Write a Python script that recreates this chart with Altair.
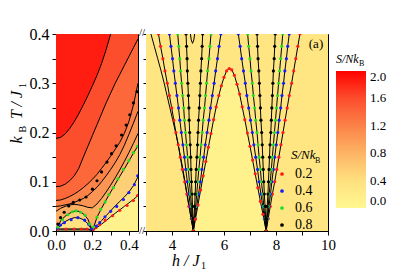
import altair as alt
import pandas as pd

FONT = "Liberation Serif"

# ---------------- colour scale of S/NkB ----------------
S_STOPS = [0.0, 0.4, 0.8, 1.2, 1.6, 2.0]
S_COLORS = ["#fff890", "#ffe07f", "#fdb464", "#fc8248", "#fc4d2c", "#ff0000"]
S_TICKS = [0.0, 0.4, 0.8, 1.2, 1.6, 2.0]

SERIES = ["0.2", "0.4", "0.6", "0.8"]
SERIES_COLORS = ["#ff1a1a", "#1a1aff", "#22dd22", "#000000"]

# ---------------- left panel: contour lines T(h) ----------------
LH = [0.0, 0.025, 0.05, 0.075, 0.1, 0.125, 0.15, 0.175, 0.2, 0.225,
      0.25, 0.275, 0.3, 0.325, 0.35, 0.375, 0.4, 0.425, 0.45]
LA = [0.188, 0.190, 0.197, 0.208, 0.222, 0.238, 0.256, 0.275, 0.295, 0.316,
      0.340, 0.368, 0.400, 0.435, 0.470, 0.505, 0.540, 0.575, 0.610]
LB = [0.090, 0.091, 0.095, 0.102, 0.112, 0.127, 0.150, 0.172, 0.194, 0.216,
      0.238, 0.260, 0.280, 0.300, 0.318, 0.336, 0.354, 0.372, 0.390]
LC = [0.062, 0.063, 0.066, 0.070, 0.075, 0.081, 0.088, 0.096, 0.105, 0.115,
      0.127, 0.139, 0.152, 0.166, 0.180, 0.198, 0.222, 0.256, 0.300]
LD = [0.050, 0.051, 0.053, 0.055, 0.058, 0.062, 0.066, 0.072, 0.080, 0.089,
      0.100, 0.112, 0.125, 0.139, 0.155, 0.174, 0.196, 0.219, 0.243]
LE = [0.040, 0.046, 0.050, 0.053, 0.054, 0.053, 0.051, 0.048, 0.047, 0.055,
      0.066, 0.079, 0.093, 0.108, 0.124, 0.141, 0.159, 0.178, 0.198]
LF = [0.0, 0.020, 0.030, 0.036, 0.040, 0.040, 0.035, 0.024, 0.0, 0.028,
      0.046, 0.063, 0.079, 0.095, 0.111, 0.126, 0.142, 0.158, 0.173]
LG = [0.0, 0.012, 0.019, 0.024, 0.027, 0.027, 0.023, 0.015, 0.0, 0.011,
      0.021, 0.031, 0.041, 0.051, 0.060, 0.069, 0.079, 0.092, 0.110]
LR = [0.004, 0.004, 0.004, 0.004, 0.004, 0.004, 0.004, 0.004, 0.0, 0.007,
      0.014, 0.021, 0.029, 0.036, 0.043, 0.050, 0.057, 0.064, 0.072]
LEFT_LINES = [("A", LA), ("B", LB), ("C", LC), ("D", LD), ("E", LE),
              ("F", LF), ("G", LG), ("R", LR)]
# S/NkB of the region just below each line (top region first)
TOP_H = [0.0, 0.45]
TOP_T = [0.4, 0.4]
TOP_S = 1.85
LEFT_BAND_S = [1.6, 1.4, 1.2, 1.05, 0.85, 0.55, 0.35, 0.1]
# dark strip of crowded contours along T -> 0 for 0 < h < 0.2
STRIP_H = [0.0, 0.2]
STRIP_T = [0.005, 0.005]

# left panel dotted contours
L_RED_H = [0.01, 0.055, 0.1, 0.14, 0.17, 0.205, 0.22, 0.24, 0.27, 0.31, 0.35, 0.39, 0.425, 0.448]
L_RED_T = [0.004, 0.004, 0.004, 0.004, 0.004, 0.003, 0.007, 0.013, 0.022, 0.031, 0.042, 0.052, 0.062, 0.072]
L_BLUE_H = [0.009, 0.025, 0.046, 0.083, 0.12, 0.157, 0.18, 0.197, 0.222, 0.24, 0.269, 0.30, 0.333, 0.37, 0.40, 0.43, 0.448]
L_BLUE_T = [0.006, 0.012, 0.017, 0.023, 0.027, 0.022, 0.013, 0.004, 0.010, 0.017, 0.029, 0.040, 0.050, 0.064, 0.078, 0.094, 0.112]
L_GREEN_H = [0.01, 0.035, 0.065, 0.09, 0.11, 0.135, 0.16, 0.185, 0.205, 0.225, 0.245, 0.27, 0.29, 0.315, 0.34, 0.37, 0.40, 0.425, 0.448]
L_GREEN_T = [0.008, 0.023, 0.033, 0.039, 0.041, 0.038, 0.032, 0.014, 0.008, 0.028, 0.044, 0.059, 0.074, 0.088, 0.106, 0.125, 0.143, 0.159, 0.172]
L_BLACK_H = [0.01, 0.025, 0.045, 0.07, 0.095, 0.13, 0.165, 0.2, 0.225, 0.25, 0.28, 0.305, 0.33, 0.36, 0.385, 0.405, 0.425, 0.445]
L_BLACK_T = [0.014, 0.027, 0.038, 0.051, 0.058, 0.063, 0.069, 0.085, 0.102, 0.12, 0.14, 0.157, 0.173, 0.195, 0.215, 0.236, 0.26, 0.283]

# ---------------- right panel: contour lines h(T) ----------------
RT = [0.0, 0.025, 0.05, 0.075, 0.1, 0.125, 0.15, 0.175, 0.2, 0.225,
      0.25, 0.275, 0.3, 0.325, 0.35, 0.375, 0.4]
R_OUT_L1 = [4.82, 4.74, 4.66, 4.58, 4.50, 4.42, 4.33, 4.24, 4.14, 4.03, 3.92, 3.81, 3.70, 3.58, 3.45, 3.32, 3.19]
R_RED_L1 = [4.82, 4.74, 4.65, 4.57, 4.49, 4.40, 4.32, 4.24, 4.15, 4.07, 3.99, 3.90, 3.82, 3.73, 3.65, 3.56, 3.48]
R_BLUE_L1 = [4.82, 4.76, 4.71, 4.65, 4.59, 4.53, 4.48, 4.42, 4.36, 4.30, 4.25, 4.19, 4.13, 4.07, 4.02, 3.96, 3.90]
R_GREEN_L1 = [4.82, 4.78, 4.75, 4.71, 4.67, 4.63, 4.60, 4.56, 4.52, 4.48, 4.45, 4.41, 4.37, 4.33, 4.30, 4.26, 4.22]
R_BLACK_L1 = [4.82, 4.80, 4.79, 4.77, 4.75, 4.73, 4.72, 4.70, 4.68, 4.66, 4.65, 4.63, 4.61, 4.59, 4.58, 4.56, 4.54]
R_BLACK_R1 = [4.82, 4.84, 4.87, 4.89, 4.91, 4.93, 4.96, 4.98, 5.00, 5.02, 5.05, 5.07, 5.09, 5.11, 5.14, 5.16, 5.18]
R_GREEN_R1 = [4.82, 4.86, 4.91, 4.95, 4.99, 5.03, 5.08, 5.12, 5.16, 5.20, 5.25, 5.29, 5.33, 5.37, 5.42, 5.46, 5.50]
R_BLUE_R1 = [4.82, 4.89, 4.95, 5.02, 5.09, 5.15, 5.22, 5.28, 5.35, 5.42, 5.48, 5.55, 5.62, 5.68, 5.75, 5.81, 5.88]
R_BLUE_L2 = [7.62, 7.55, 7.49, 7.42, 7.35, 7.29, 7.22, 7.15, 7.09, 7.02, 6.95, 6.88, 6.82, 6.75, 6.68, 6.62, 6.55]
R_GREEN_L2 = [7.62, 7.58, 7.53, 7.49, 7.44, 7.40, 7.35, 7.31, 7.27, 7.22, 7.18, 7.13, 7.09, 7.04, 7.00, 6.95, 6.91]
R_BLACK_L2 = [7.62, 7.60, 7.58, 7.55, 7.53, 7.51, 7.49, 7.47, 7.45, 7.42, 7.40, 7.38, 7.36, 7.34, 7.31, 7.29, 7.27]
R_BLACK_R2 = [7.62, 7.64, 7.66, 7.69, 7.71, 7.73, 7.75, 7.77, 7.80, 7.82, 7.84, 7.86, 7.88, 7.90, 7.93, 7.95, 7.97]
R_GREEN_R2 = [7.62, 7.66, 7.70, 7.74, 7.78, 7.82, 7.86, 7.90, 7.94, 7.98, 8.02, 8.06, 8.10, 8.14, 8.18, 8.22, 8.26]
R_BLUE_R2 = [7.62, 7.68, 7.73, 7.79, 7.84, 7.90, 7.95, 8.01, 8.07, 8.12, 8.18, 8.23, 8.29, 8.34, 8.40, 8.45, 8.51]
R_RED_R2 = [7.62, 7.70, 7.78, 7.86, 7.95, 8.03, 8.11, 8.19, 8.27, 8.35, 8.43, 8.51, 8.60, 8.68, 8.76, 8.84, 8.92]
# red dome between the two critical fields, T(h)
DOME_H = [4.82, 4.9, 5.0, 5.1, 5.2, 5.3, 5.4, 5.5, 5.6, 5.7, 5.8, 5.9, 6.0, 6.1, 6.2,
          6.3, 6.4, 6.5, 6.6, 6.7, 6.8, 6.9, 7.0, 7.1, 7.2, 7.3, 7.4, 7.5, 7.62]
DOME_T = [0.0, 0.024, 0.053, 0.083, 0.112, 0.141, 0.17, 0.198, 0.226, 0.252, 0.275, 0.295, 0.312, 0.325, 0.330,
          0.327, 0.316, 0.298, 0.278, 0.252, 0.226, 0.199, 0.172, 0.144, 0.116, 0.088, 0.060, 0.034, 0.0]
# small closed-top contour at the top of the first fan
NOTCH_H = [4.71, 4.74, 4.79, 4.84, 4.87]
NOTCH_T = [0.4, 0.388, 0.381, 0.388, 0.4]
R_BG_H = [3.0, 10.0]
R_BG_T = [0.4, 0.4]
R_BG_S = 0.3
R_OUTSIDE_S = 0.1
R_FAN_S = [0.5, 0.7, 1.0]

# ---------------- scales / axes ----------------
cscale = alt.Scale(domain=S_STOPS, range=S_COLORS, interpolate="rgb")
fscale = alt.Scale(domain=SERIES, range=SERIES_COLORS)

lx_scale = alt.Scale(domain=[0, 0.45], nice=False, zero=False)
ly_scale = alt.Scale(domain=[0, 0.4], nice=False)
rx_scale = alt.Scale(domain=[3, 10], nice=False, zero=False)
ry_scale = alt.Scale(domain=[0, 0.4], nice=False)

Y_TICKS = [0.0, 0.05, 0.1, 0.15, 0.2, 0.25, 0.3, 0.35, 0.4]
LX_TICKS = [0.0, 0.1, 0.2, 0.3, 0.4]
RX_TICKS = [3, 4, 5, 6, 7, 8, 9, 10]

lx_axis = alt.Axis(values=LX_TICKS, format=".1f", title=None, grid=False, labelFlush=False,
                   labelOverlap=False, labelFontSize=15, labelPadding=2,
                   labelExpr="round(datum.value*10) % 2 == 0 ? datum.label : ''")
ly_axis = alt.Axis(values=Y_TICKS, format=".1f", title=None, grid=False, labelFlush=False,
                   labelOverlap=False, labelFontSize=16, labelPadding=3,
                   labelExpr="round(datum.value*20) % 2 == 0 ? datum.label : ''")
rx_axis = alt.Axis(values=RX_TICKS, format="d", title=None, grid=False, labelFlush=False,
                   labelOverlap=False, labelFontSize=15, labelPadding=2,
                   labelExpr="datum.value % 2 == 0 ? datum.label : ''")
ry_axis = alt.Axis(values=Y_TICKS, labels=False, title=None, grid=False, tickSize=3)

color_legend = alt.Legend(orient="none", legendX=190, legendY=37, direction="vertical",
                          gradientLength=137, gradientThickness=30, title=None,
                          values=S_TICKS, format=".1f", labelFont=FONT, labelFontSize=13,
                          labelColor="black", labelOffset=4, gradientStrokeWidth=0,
                          padding=0, labelOverlap=False)
fill_legend = alt.Legend(orient="none", legendX=129, legendY=133, title=None,
                         symbolType="circle", symbolSize=14, symbolStrokeWidth=0,
                         labelFont=FONT, labelFontSize=14, labelColor="black",
                         labelOffset=6, rowPadding=3, padding=0)

ONE = pd.DataFrame({"k": [0]})


def txt(s, x, y, size, italic=False, angle=0, align="left", baseline="alphabetic"):
    return alt.Chart(ONE).mark_text(
        text=s, font=FONT, fontSize=size, fontStyle="italic" if italic else "normal",
        angle=angle, align=align, baseline=baseline, color="black"
    ).encode(x=alt.value(x), y=alt.value(y))


# ---------------- left panel ----------------
def LX():
    return alt.X("h:Q", scale=lx_scale, axis=lx_axis)


def LY():
    return alt.Y("T:Q", scale=ly_scale, axis=ly_axis)


left_layers = []
bands = [(TOP_H, TOP_T, TOP_S)] + [(LH, arr, s) for (_, arr), s in zip(LEFT_LINES, LEFT_BAND_S)]
for hs, ts, s in bands:
    df = pd.DataFrame({"h": hs, "T": ts, "S": [s] * len(hs)})
    left_layers.append(
        alt.Chart(df).mark_area(clip=True).encode(
            x=LX(), y=LY(), color=alt.Color("S:Q", scale=cscale, legend=None)))

left_layers.append(
    alt.Chart(pd.DataFrame({"h": STRIP_H, "T": STRIP_T})).mark_area(
        clip=True, color="#8a8455").encode(x=LX(), y=LY()))

rows = []
for name, arr in LEFT_LINES:
    for i, (h, t) in enumerate(zip(LH, arr)):
        rows.append({"line": name, "o": i, "h": h, "T": t})
left_lines_df = pd.DataFrame(rows)
left_layers.append(
    alt.Chart(left_lines_df).mark_line(clip=True, color="black", strokeWidth=1).encode(
        x=LX(), y=LY(), detail="line:N", order="o:Q"))

rows = []
for ser, hs, ts in [("0.2", L_RED_H, L_RED_T), ("0.4", L_BLUE_H, L_BLUE_T),
                    ("0.6", L_GREEN_H, L_GREEN_T), ("0.8", L_BLACK_H, L_BLACK_T)]:
    for h, t in zip(hs, ts):
        rows.append({"series": ser, "h": h, "T": t})
left_dots_df = pd.DataFrame(rows)
left_layers.append(
    alt.Chart(left_dots_df).mark_circle(clip=True, size=10, opacity=1).encode(
        x=LX(), y=LY(), fill=alt.Fill("series:N", scale=fscale, legend=None)))

# y title  k_B T / J_1
left_layers += [
    txt("k", -34, 109.5, 16, italic=True, angle=270),
    txt("B", -30, 98.5, 10, angle=270),
    txt("T / J", -34, 85, 16, italic=True, angle=270),
    txt("1", -30, 54, 10, angle=270),
]
left = alt.layer(*left_layers).properties(width=82, height=197)

# ---------------- right panel ----------------
def RX(f="h"):
    return alt.X(f + ":Q", scale=rx_scale, axis=rx_axis)


def RY():
    return alt.Y("T:Q", scale=ry_scale, axis=ry_axis)


def RC():
    return alt.Color("S:Q", scale=cscale, legend=color_legend)


right_layers = []
df = pd.DataFrame({"h": R_BG_H, "T": R_BG_T, "S": [R_BG_S] * 2})
right_layers.append(alt.Chart(df).mark_area(clip=True).encode(x=RX(), y=RY(), color=RC()))

# low-entropy regions outside the fans
df = pd.DataFrame({"T": RT, "h": R_RED_L1, "h2": [3.0] * len(RT), "S": [R_OUTSIDE_S] * len(RT)})
right_layers.append(alt.Chart(df).mark_area(clip=True, orient="horizontal").encode(
    y=RY(), x=RX(), x2="h2:Q", color=RC(), order="T:Q"))
df = pd.DataFrame({"T": RT, "h": R_RED_R2, "h2": [10.0] * len(RT), "S": [R_OUTSIDE_S] * len(RT)})
right_layers.append(alt.Chart(df).mark_area(clip=True, orient="horizontal").encode(
    y=RY(), x=RX(), x2="h2:Q", color=RC(), order="T:Q"))
df = pd.DataFrame({"h": DOME_H, "T": DOME_T, "S": [R_OUTSIDE_S] * len(DOME_H)})
right_layers.append(alt.Chart(df).mark_area(clip=True).encode(x=RX(), y=RY(), color=RC()))

FANS = [
    [(R_BLUE_L1, R_BLUE_R1), (R_GREEN_L1, R_GREEN_R1), (R_BLACK_L1, R_BLACK_R1)],
    [(R_BLUE_L2, R_BLUE_R2), (R_GREEN_L2, R_GREEN_R2), (R_BLACK_L2, R_BLACK_R2)],
]
for fan in FANS:
    for (lft, rgt), s in zip(fan, R_FAN_S):
        df = pd.DataFrame({"T": RT, "h": lft, "h2": rgt, "S": [s] * len(RT)})
        right_layers.append(alt.Chart(df).mark_area(clip=True, orient="horizontal").encode(
            y=RY(), x=RX(), x2="h2:Q", color=RC(), order="T:Q"))

RIGHT_LINES = [("out1", R_OUT_L1), ("rl1", R_RED_L1), ("bl1", R_BLUE_L1), ("gl1", R_GREEN_L1),
               ("kl1", R_BLACK_L1), ("kr1", R_BLACK_R1), ("gr1", R_GREEN_R1), ("br1", R_BLUE_R1),
               ("bl2", R_BLUE_L2), ("gl2", R_GREEN_L2), ("kl2", R_BLACK_L2), ("kr2", R_BLACK_R2),
               ("gr2", R_GREEN_R2), ("br2", R_BLUE_R2), ("rr2", R_RED_R2)]
rows = []
for name, arr in RIGHT_LINES:
    for i, (h, t) in enumerate(zip(arr, RT)):
        rows.append({"line": name, "o": i, "h": h, "T": t})
for i, (h, t) in enumerate(zip(DOME_H, DOME_T)):
    rows.append({"line": "dome", "o": i, "h": h, "T": t})
for i, (h, t) in enumerate(zip(NOTCH_H, NOTCH_T)):
    rows.append({"line": "notch", "o": i, "h": h, "T": t})
right_lines_df = pd.DataFrame(rows)
right_layers.append(
    alt.Chart(right_lines_df).mark_line(clip=True, color="black", strokeWidth=1).encode(
        x=RX(), y=RY(), detail="line:N", order="o:Q"))

DOT_SETS = [("0.2", [R_RED_L1, R_RED_R2]),
            ("0.4", [R_BLUE_L1, R_BLUE_R1, R_BLUE_L2, R_BLUE_R2]),
            ("0.6", [R_GREEN_L1, R_GREEN_R1, R_GREEN_L2, R_GREEN_R2]),
            ("0.8", [R_BLACK_L1, R_BLACK_R1, R_BLACK_L2, R_BLACK_R2])]
rows = []
for ser, arrs in DOT_SETS:
    for arr in arrs:
        for h, t in zip(arr, RT):
            rows.append({"series": ser, "h": h, "T": t})
for h, t in zip(DOME_H, DOME_T):
    rows.append({"series": "0.2", "h": h, "T": t})
right_dots_df = pd.DataFrame(rows)
right_layers.append(
    alt.Chart(right_dots_df).mark_circle(clip=True, size=10, opacity=1).encode(
        x=RX(), y=RY(), fill=alt.Fill("series:N", scale=fscale, legend=fill_legend)))

right_layers += [
    txt("(a)", 170, 14, 13, align="center"),
    txt("//", -4, -1, 11, align="center", baseline="middle"),
    txt("//", -4, 197, 11, align="center", baseline="middle"),
    txt("S/Nk", 190, 29, 12, italic=True),
    txt("B", 213, 32, 8),
    txt("S/Nk", 145, 125, 13, italic=True),
    txt("B", 169, 128.5, 8),
    txt("h / J", 26, 231.5, 16, italic=True),
    txt("1", 55, 234.5, 10),
]
right = alt.layer(*right_layers).properties(width=182, height=197)

chart = alt.hconcat(left, right, spacing=8, bounds="flush").resolve_scale(
    color="independent", fill="independent", x="independent", y="independent"
).resolve_legend(color="independent", fill="independent").properties(
    padding={"left": 0, "top": 17, "right": 0, "bottom": 0}
).configure_view(stroke="black", strokeWidth=1).configure_axis(
    domainColor="black", tickColor="black", labelColor="black", labelFont=FONT,
    tickSize=4, domainWidth=1, tickWidth=1
)

chart.save("out.html", embed_options={"renderer": "svg", "actions": False})
